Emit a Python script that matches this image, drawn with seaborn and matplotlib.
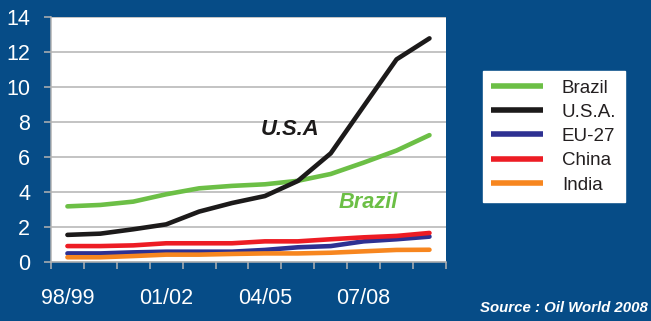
import matplotlib
matplotlib.use("Agg")
import matplotlib.pyplot as plt
import seaborn as sns
import pandas as pd

seasons = ["98/99", "99/00", "00/01", "01/02", "02/03", "03/04",
           "04/05", "05/06", "06/07", "07/08", "08/09", "09/10"]
brazil = [3.18, 3.26, 3.45, 3.87, 4.21, 4.35, 4.44, 4.64, 5.03, 5.68, 6.37, 7.25]
usa = [1.55, 1.62, 1.87, 2.15, 2.88, 3.37, 3.77, 4.63, 6.21, 8.90, 11.58, 12.78]
eu27 = [0.49, 0.49, 0.55, 0.59, 0.59, 0.59, 0.69, 0.84, 0.91, 1.18, 1.30, 1.45]
china = [0.91, 0.91, 0.95, 1.07, 1.07, 1.07, 1.18, 1.18, 1.30, 1.41, 1.49, 1.66]
india = [0.27, 0.27, 0.34, 0.42, 0.42, 0.46, 0.49, 0.49, 0.53, 0.61, 0.69, 0.70]

countries = ["Brazil", "U.S.A.", "EU-27", "China", "India"]
colors = ["#6cbf46", "#1c1a1a", "#2e3192", "#ed1c24", "#f7861f"]
series = [brazil, usa, eu27, china, india]

rows = []
for name, vals in zip(countries, series):
    for i, v in enumerate(vals):
        rows.append({"pos": i, "season": seasons[i], "country": name, "value": v})
df = pd.DataFrame(rows)

BG = "#064c87"
GRID = "#b3b3b3"

sns.set_theme(style="white")
plt.rcParams["font.family"] = ["Liberation Sans", "DejaVu Sans"]

fig = plt.figure(figsize=(6.51, 3.21), dpi=100, facecolor=BG)
ax = fig.add_axes([0.0783, 0.1838, 0.6067, 0.7632])
ax.set_facecolor("white")

sns.lineplot(data=df, x="pos", y="value", hue="country", hue_order=countries,
             palette=colors, linewidth=3.3, ax=ax, legend=False)

ax.set_xlim(-0.5, len(seasons) - 0.5)
ax.set_ylim(0, 14)
ax.set_yticks(range(0, 15, 2))
ax.yaxis.grid(True, color=GRID, linewidth=1.1)
ax.set_axisbelow(True)

# category boundaries carry the tick marks; labels sit on every third season
ax.set_xticks([i - 0.5 for i in range(len(seasons) + 1)])
ax.set_xticklabels([])
label_pos = list(range(0, len(seasons), 3))
ax.set_xticks(label_pos, minor=True)
ax.set_xticklabels([seasons[i] for i in label_pos], minor=True)

ax.tick_params(axis="x", which="major", length=5, width=1.1, color=GRID,
               direction="out", bottom=True)
ax.tick_params(axis="x", which="minor", length=0, pad=19, labelsize=15.5,
               labelcolor="white", bottom=True)
ax.tick_params(axis="y", which="major", length=5, width=1.1, color=GRID,
               direction="out", left=True, pad=10, labelsize=15.5,
               labelcolor="white")

for side in ["top", "right"]:
    ax.spines[side].set_visible(False)
for side in ["left", "bottom"]:
    ax.spines[side].set_color(GRID)
    ax.spines[side].set_linewidth(1.1)
ax.set_xlabel("")
ax.set_ylabel("")

ax.text(6.76, 7.55, "U.S.A", fontsize=15.8, fontweight="bold", fontstyle="italic",
        color="#1c1a1a", ha="center", va="center")
ax.text(9.14, 3.42, "Brazil", fontsize=15.7, fontweight="bold", fontstyle="italic",
        color="#6cbf46", ha="center", va="center")

handles = [plt.Line2D([], [], color=c, linewidth=4.0, solid_capstyle="butt")
           for c in colors]
leg = fig.legend(handles, countries, loc="upper left",
                 bbox_to_anchor=(0.742, 0.779), frameon=True, fancybox=False,
                 fontsize=13.5, handlelength=2.75, handletextpad=1.0,
                 labelspacing=0.38, borderpad=0.45, borderaxespad=0)
leg.get_frame().set_facecolor("white")
leg.get_frame().set_edgecolor("white")
leg.get_frame().set_alpha(1)
for t in leg.get_texts():
    t.set_color("#231f20")

fig.text(0.995, 0.04, "Source : Oil World 2008", fontsize=10.8,
         fontweight="bold", fontstyle="italic", color="white",
         ha="right", va="center")

fig.savefig("out.png", dpi=100, facecolor=BG)
